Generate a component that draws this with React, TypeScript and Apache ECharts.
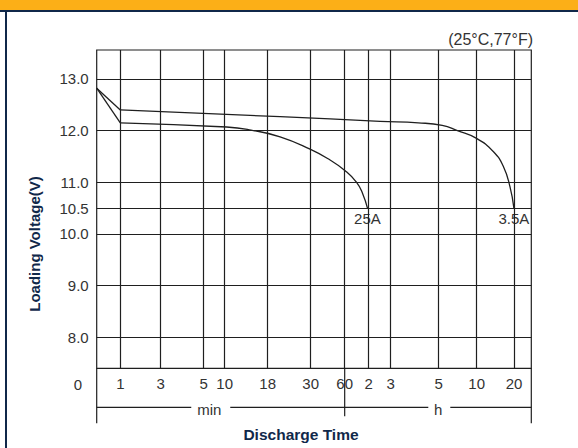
import React, { useEffect, useRef } from 'react';
import * as echarts from 'echarts';

// x positions are on the chart's own (non-linear) time scale, 0..100 across the plot
const xTickPos = [5.43, 14.73, 24.62, 29.45, 39.35, 49.24, 57.06, 62.59, 67.65, 78.69, 87.44, 96.02];
const xTickLabels = ['1', '3', '5', '10', '18', '30', '60', '2', '3', '5', '10', '20'];
const yTickValues = [8, 9, 10, 10.5, 11, 12, 13];
const minLabelPos = 25.9;
const hourLabelPos = 78.6;

// 3.5A discharge curve
const curve35Start = [[0, 12.82], [5.43, 12.40]];
const curve35 = [
  [5.43, 12.40], [42.2, 12.27], [65.2, 12.18], [74.0, 12.15],
  [79.5, 12.10], [83.0, 12.0], [87.4, 11.85], [91.3, 11.59], [93.6, 11.30],
  [95.1, 10.91], [96.0, 10.50],
];
// 25A discharge curve
const curve25Start = [[0, 12.82], [5.43, 12.15]];
const curve25 = [
  [5.43, 12.15], [29.9, 12.07], [35.5, 12.01],
  [42.2, 11.88], [49.1, 11.64], [53.7, 11.43], [57.1, 11.23],
  [59.8, 11.0], [61.2, 10.78], [62.3, 10.50],
];

const FONT = 'Arial, "Liberation Sans", Helvetica, sans-serif';
const INK = '#1f1f1f';
const TXT = '#333333';
const NAVY = '#10284A';

export default function App() {
  const ref = useRef<HTMLDivElement>(null);
  useEffect(() => {
    if (!ref.current) return;
    const chart = echarts.init(ref.current, null, { renderer: 'svg' });
    const lineStyle = { color: INK, width: 1.3 };
    const withEndLabel = (data: number[][], text: string) =>
      data.map((p, i) =>
        i === data.length - 1
          ? {
              value: p,
              symbol: 'circle',
              symbolSize: 1,
              label: {
                show: true,
                position: 'bottom',
                distance: 2,
                formatter: text,
                fontSize: 15,
                color: TXT,
                fontFamily: FONT,
              },
            }
          : { value: p, symbol: 'none' }
      );
    chart.setOption({
      animation: false,
      backgroundColor: '#ffffff',
      grid: {
        left: 96.7,
        right: 46.7,
        top: 50,
        bottom: 79.7,
        show: true,
        borderColor: INK,
        borderWidth: 1.2,
      },
      xAxis: {
        type: 'value',
        min: 0,
        max: 100,
        axisLine: { show: false },
        axisTick: { show: false },
        splitLine: { show: false },
        axisLabel: {
          customValues: xTickPos,
          fontSize: 15,
          color: TXT,
          fontFamily: FONT,
          margin: 8,
          formatter: (v: number) => {
            const i = xTickPos.findIndex((p) => Math.abs(p - v) < 1e-6);
            return i >= 0 ? xTickLabels[i] : '';
          },
        },
      },
      yAxis: {
        type: 'value',
        min: 7.4,
        max: 13.56,
        axisLine: { show: false },
        axisTick: { show: false },
        splitLine: { show: false },
        axisLabel: {
          customValues: yTickValues,
          fontSize: 15,
          color: TXT,
          fontFamily: FONT,
          margin: 8,
          formatter: (v: number) => v.toFixed(1),
        },
      },
      series: [
        {
          type: 'line',
          data: curve35Start,
          symbol: 'none',
          lineStyle,
          z: 3,
          markLine: {
            silent: true,
            symbol: ['none', 'none'],
            label: { show: false },
            lineStyle: { type: 'solid', color: INK, width: 1.2 },
            data: [
              ...xTickPos.map((v) => ({ xAxis: v })),
              ...yTickValues.map((v) => ({ yAxis: v })),
            ],
          },
        },
        {
          type: 'line',
          data: withEndLabel(curve35, '3.5A'),
          symbol: 'circle',
          symbolSize: 1,
          showSymbol: true,
          showAllSymbol: true,
          itemStyle: { color: INK },
          smooth: 0.5,
          lineStyle,
          z: 3,
        },
        { type: 'line', data: curve25Start, symbol: 'none', lineStyle, z: 3 },
        {
          type: 'line',
          data: withEndLabel(curve25, '25A'),
          symbol: 'circle',
          symbolSize: 1,
          showSymbol: true,
          showAllSymbol: true,
          itemStyle: { color: INK },
          smooth: 0.5,
          lineStyle,
          z: 3,
        },
      ],
    });

    const toPx = (x: number) => chart.convertToPixel({ gridIndex: 0 }, [x, 7.4]) as number[];
    const [x0, yB] = toPx(0);
    const [x1] = toPx(100);
    const [x60] = toPx(xTickPos[6]);
    const [xMin] = toPx(minLabelPos);
    const [xH] = toPx(hourLabelPos);
    const seg = (ax: number, ay: number, bx: number, by: number) => ({
      type: 'line',
      shape: { x1: ax, y1: ay, x2: bx, y2: by },
      style: { stroke: INK, lineWidth: 1.2 },
      silent: true,
    });
    const yRow = yB + 39;
    chart.setOption({
      graphic: {
        elements: [
          { type: 'rect', shape: { x: 0, y: 0, width: 578, height: 10 }, style: { fill: '#FCAF17' } },
          { type: 'rect', shape: { x: 0, y: 10, width: 578, height: 2 }, style: { fill: NAVY } },
          { type: 'rect', shape: { x: 5, y: 10, width: 2, height: 438 }, style: { fill: NAVY } },
          seg(x0, yB, x0, yB + 55),
          seg(x1, yB, x1, yB + 55),
          seg(x60, yB, x60, yB + 48),
          seg(x0, yRow, xMin - 18, yRow),
          seg(xMin + 21, yRow, xH - 10, yRow),
          seg(xH + 12, yRow, x1, yRow),
          {
            type: 'text',
            x: xMin,
            y: yRow + 2,
            style: { text: 'min', fontSize: 15, fill: TXT, fontFamily: FONT, align: 'center', verticalAlign: 'middle' },
          },
          {
            type: 'text',
            x: xH,
            y: yRow + 2,
            style: { text: 'h', fontSize: 15, fill: TXT, fontFamily: FONT, align: 'center', verticalAlign: 'middle' },
          },
          {
            type: 'text',
            x: x0 - 18.7,
            y: yB + 16,
            style: { text: '0', fontSize: 15, fill: TXT, fontFamily: FONT, align: 'center', verticalAlign: 'middle' },
          },
          {
            type: 'text',
            x: 533,
            y: 39,
            style: { text: '(25°C,77°F)', fontSize: 16, fill: TXT, fontFamily: FONT, align: 'right', verticalAlign: 'middle' },
          },
          {
            type: 'text',
            x: 34.7,
            y: 244,
            rotation: Math.PI / 2,
            style: {
              text: 'Loading Voltage(V)',
              fontSize: 15,
              fontWeight: 'bold',
              fill: NAVY,
              fontFamily: FONT,
              align: 'center',
              verticalAlign: 'middle',
            },
          },
          {
            type: 'text',
            x: 301,
            y: 434,
            style: {
              text: 'Discharge Time',
              fontSize: 15.5,
              fontWeight: 'bold',
              fill: NAVY,
              fontFamily: FONT,
              align: 'center',
              verticalAlign: 'middle',
            },
          },
        ],
      },
    });
    return () => chart.dispose();
  }, []);
  return (
    <div
      ref={ref}
      style={{ position: 'absolute', left: 0, top: 0, width: 578, height: 448 }}
    />
  );
}
